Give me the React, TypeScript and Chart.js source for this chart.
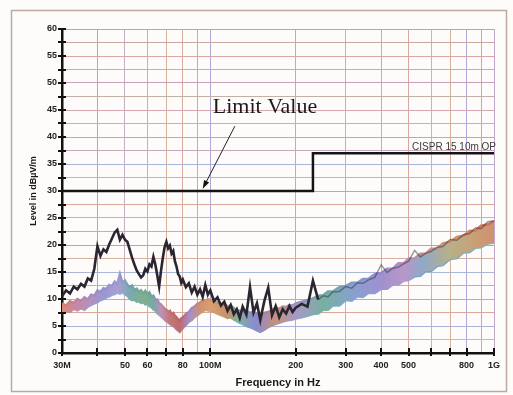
import React, { useEffect, useRef } from "react";
import { Chart, registerables } from "chart.js";

Chart.register(...registerables);

// ---------------- DATA ----------------
const FREQ_MHZ = [
  30, 31, 32, 33, 34, 35, 36, 37, 38, 39, 40, 41, 42, 43, 44, 45, 46, 47, 48, 49,
  50, 51, 52, 53, 54, 55, 56, 57, 58, 59, 60, 61, 62, 63, 64, 65, 66, 67, 68, 69,
  70, 71, 72, 73, 74, 75, 76, 77, 78, 79, 80, 82, 84, 86, 88, 90, 92, 94, 96, 98,
  100, 103, 106, 109, 112, 115, 118, 121, 124, 127, 130, 134, 138, 142, 146, 150,
  155, 160, 165, 170, 175, 180, 185, 190, 195, 200, 210, 220, 230, 240, 250, 260,
  270, 285, 300, 315, 330, 345, 360, 380, 400, 420, 440, 460, 480, 500, 525, 550,
  575, 600, 630, 660, 700, 740, 780, 820, 860, 900, 950, 1000,
];

// peak trace (black)
const PEAK_DBUV = [
  10.5, 11.6, 11.0, 12.3, 11.8, 12.8, 12.3, 13.8, 13.4, 15.6, 19.8, 18.0, 19.2, 18.7, 20.1, 21.2, 22.3, 22.8, 21.0, 21.9,
  21.0, 20.6, 19.1, 17.6, 16.4, 15.3, 14.6, 14.0, 14.4, 15.6, 15.1, 16.4, 16.0, 17.8, 16.4, 14.4, 12.3, 15.2, 17.6, 19.6,
  20.6, 19.4, 19.9, 18.4, 18.9, 17.0, 16.0, 14.6, 14.2, 13.0, 13.6, 12.2, 12.9, 11.2, 12.3, 10.8, 11.8, 10.4, 12.6, 10.8,
  11.6, 9.6, 10.3, 8.8, 9.5, 7.8, 8.9, 7.2, 8.1, 6.5, 8.6, 7.1, 12.2, 7.5, 9.2, 6.1,
  9.6, 12.1, 7.0, 8.7, 6.6, 8.1, 7.3, 8.7, 7.6, 8.4, 9.1, 8.6, 13.4, 9.9, 10.6, 10.4,
  11.3, 11.4, 12.3, 12.0, 13.0, 12.9, 13.5, 14.0, 16.3, 14.9, 15.7, 15.9, 16.5, 17.0, 19.0, 17.8,
  18.5, 18.8, 19.6, 19.7, 21.0, 20.9, 21.9, 22.1, 23.2, 23.0, 24.3, 24.5,
];

// average trace band (coloured) upper and lower edges
const AVG_UPPER_DBUV = [
  9.2, 8.8, 9.6, 9.3, 10.0, 9.6, 10.3, 9.9, 10.8, 10.6, 11.6, 11.3, 12.0, 11.8, 12.6, 12.4, 13.2, 12.8, 14.6, 13.0,
  13.4, 12.6, 12.2, 12.5, 11.6, 11.9, 11.3, 11.6, 11.0, 11.5, 10.8, 11.2, 10.4, 10.6, 9.8, 9.9, 9.2, 9.0, 8.6, 8.2,
  8.0, 7.6, 7.8, 7.2, 7.4, 6.9, 6.6, 6.2, 6.0, 6.4, 6.6, 7.2, 7.6, 8.3, 8.6, 9.1, 9.3, 9.8, 9.6, 10.0,
  9.8, 9.5, 9.3, 9.0, 9.2, 8.6, 8.8, 8.3, 8.0, 7.8, 7.6, 7.9, 7.4, 7.7, 7.2, 7.0,
  7.4, 7.6, 7.9, 8.4, 8.2, 8.6, 8.5, 8.9, 8.8, 9.2, 9.5, 9.8, 10.1, 10.6, 10.7, 11.4,
  11.4, 12.2, 12.4, 13.0, 13.0, 13.7, 13.7, 14.6, 14.8, 15.6, 15.6, 16.6, 16.6, 17.5, 17.5, 18.4,
  18.4, 19.3, 19.3, 20.3, 20.6, 21.5, 21.7, 22.6, 22.7, 23.6, 23.8, 24.4,
];

const AVG_LOWER_DBUV = [
  7.4, 7.8, 7.6, 8.2, 7.9, 8.3, 8.0, 8.6, 8.9, 9.2, 9.4, 9.8, 10.0, 10.3, 10.5, 10.8, 10.9, 11.2, 11.0, 11.3,
  10.9, 10.6, 10.1, 9.8, 9.9, 9.5, 9.6, 9.3, 9.4, 9.0, 9.1, 8.7, 8.5, 8.1, 7.9, 7.4, 7.1, 6.8, 6.5, 6.2,
  5.9, 5.7, 5.4, 5.2, 5.0, 4.8, 4.4, 4.2, 3.9, 4.3, 4.6, 5.2, 5.8, 6.1, 6.7, 7.0, 7.4, 7.7, 8.0, 7.9,
  7.8, 7.6, 7.3, 7.0, 6.8, 6.5, 6.6, 6.2, 5.9, 5.6, 5.4, 5.0, 4.8, 4.5, 4.2, 3.9,
  4.3, 4.8, 5.1, 5.4, 5.6, 5.8, 6.0, 6.1, 6.2, 6.4, 6.6, 6.9, 7.2, 7.3, 8.0, 8.0,
  8.8, 8.8, 9.8, 9.7, 10.5, 10.4, 11.1, 11.1, 11.9, 11.9, 12.7, 12.7, 13.4, 13.5, 14.2, 14.3,
  15.2, 15.2, 16.1, 16.3, 17.4, 17.6, 18.6, 18.7, 19.5, 19.6, 20.3, 20.4,
];

// limit line CISPR 15 10m OP
const LIMIT_FREQ_MHZ = [30, 230, 230, 1000];
const LIMIT_DBUV = [30, 30, 37, 37];

// axes
const X_MIN = 30;
const X_MAX = 1000;
const Y_MIN = 0;
const Y_MAX = 60;
const Y_STEP = 2.5;
const X_GRID_VALUES = [30, 40, 50, 60, 70, 80, 90, 100, 200, 300, 400, 500, 600, 700, 800, 900, 1000];
const X_TICK_MARKS = [30, 40, 50, 60, 70, 80, 100, 200, 300, 400, 500, 600, 700, 800, 1000];
const X_TICK_LABELS: Record<number, string> = {
  30: "30M", 50: "50", 60: "60", 80: "80", 100: "100M", 200: "200",
  300: "300", 400: "400", 500: "500", 800: "800", 1000: "1G",
};

// annotations
const LIMIT_NAME = "CISPR 15 10m OP";
const ANNOT_TEXT = "Limit Value";
const ANNOT_TEXT_AT = { f: 102, v: 45.6 };
const ANNOT_ARROW_FROM = { f: 122, v: 42 };
const ANNOT_ARROW_TO = { f: 94, v: 30.4 };
const PEAK_FADE_FROM_MHZ = 240;

// ---------------- STYLES ----------------
const SANS = "'Liberation Sans', Arial, sans-serif";
const SERIF = "'Liberation Serif', 'Times New Roman', serif";

const Y_GRID_COLORS = [
  "#c8a090", "#d4b4a8", "#a8b4d8", "#d8a898", "#b8a8d0", "#d0a8a0", "#a8b8d8", "#d8b0a0",
  "#b8a0c8", "#d4a8a0", "#a8b8dc", "#d8a898", "#b0a8d0", "#d8b098", "#a8b4d8", "#c8a8b8",
  "#d8a0a0", "#a8b8d8", "#d4a8b0", "#c0b0a8", "#c8a0b8", "#a8b4dc", "#d8a8a0", "#c8a8a0",
  "#a8a8d4",
];
const X_GRID_COLORS: Record<number, string> = {
  30: "rgba(0,0,0,0)", 40: "#a8a8d8", 50: "#c8b0c0", 60: "#a0c4c4", 70: "#d8b49c",
  80: "#d8ac98", 90: "#98c0cc", 100: "#b0a8d8", 200: "#a0b4dc", 300: "#d8aca0",
  400: "#a8b4e0", 500: "#d8a8a0", 600: "#b0b8dc", 700: "#d8b098", 800: "#b4a8d8",
  900: "#d8a4a0", 1000: "#c0a8c8",
};

const BAND_STOP_FREQ = [30, 33, 37, 42, 47, 52, 58, 63, 67, 72, 78, 85, 92, 100, 115, 125, 145, 170, 200, 250, 320, 400, 480, 560, 700, 850, 1000];
const BAND_FILL_COLORS = [
  "#d88a70", "#c888a0", "#b890b8", "#9a98d0", "#a8a0d4", "#7aaab0", "#80b08a", "#78a8a8", "#c090b8",
  "#c07878", "#c06a70", "#a890c8", "#d09070", "#d8a070", "#c89068", "#80b0a0", "#8c8ad0", "#c8907a",
  "#a898c8", "#78b0a0", "#88a0d0", "#a090d0", "#b898c8", "#90a8c8", "#b8b088", "#c8a078", "#d09070",
];
const BAND_TOP_COLORS = [
  "#d88068", "#c08098", "#b088b8", "#9090d0", "#a098d0", "#70a0b0", "#78a888", "#70a0a8", "#c088b0",
  "#c07070", "#c06068", "#a088c8", "#d08868", "#d09868", "#c88860", "#78a898", "#8480d0", "#c88870",
  "#a090c8", "#70a898", "#8098d0", "#9888d0", "#b890c0", "#c09090", "#d8906a", "#d07858", "#d07050",
];
const BAND_BOTTOM_COLORS = [
  "#d08870", "#b890b0", "#a898c8", "#90a0d8", "#98a8d8", "#70b0b0", "#78b090", "#70b0b0", "#b098c8",
  "#c08080", "#b07880", "#9898d0", "#c89880", "#c8a078", "#b8a080", "#78b8a8", "#7c90d8", "#b89888",
  "#98a0d0", "#70b8a8", "#80a8d8", "#9098d8", "#a8a0d0", "#70a8c0", "#78a8c8", "#78b0b0", "#88b8a0",
];

function makeGradient(chart: any, colors: string[]) {
  const { ctx, chartArea, scales } = chart;
  if (!chartArea || !scales.x) return colors[0];
  const g = ctx.createLinearGradient(chartArea.left, 0, chartArea.right, 0);
  const w = chartArea.right - chartArea.left;
  BAND_STOP_FREQ.forEach((f, i) => {
    const t = (scales.x.getPixelForValue(f) - chartArea.left) / w;
    g.addColorStop(Math.min(1, Math.max(0, t)), colors[i]);
  });
  return g;
}

const decorPlugin = {
  id: "decor",
  beforeDraw(chart: any) {
    const { ctx, width, height } = chart;
    ctx.save();
    ctx.fillStyle = "#fdfcfb";
    ctx.fillRect(0, 0, width, height);
    ctx.strokeStyle = "#bfa99c";
    ctx.lineWidth = 1.5;
    ctx.strokeRect(11.5, 10.5, 495, 381);
    ctx.restore();
  },
  afterDraw(chart: any) {
    const { ctx, chartArea, scales } = chart;
    const xs = scales.x;
    const ys = scales.y;
    ctx.save();
    ctx.strokeStyle = "#111";
    ctx.lineWidth = 2;
    ctx.beginPath();
    for (let v = Y_MIN; v <= Y_MAX + 1e-6; v += Y_STEP) {
      const y = Math.round(ys.getPixelForValue(v));
      ctx.moveTo(chartArea.left - 4, y);
      ctx.lineTo(chartArea.left + 4, y);
    }
    X_TICK_MARKS.forEach((f) => {
      const x = Math.round(xs.getPixelForValue(f));
      ctx.moveTo(x, chartArea.bottom - 5);
      ctx.lineTo(x, chartArea.bottom + 3);
    });
    ctx.stroke();

    ctx.fillStyle = "#3a3a3a";
    ctx.font = `10px ${SANS}`;
    ctx.textAlign = "right";
    ctx.textBaseline = "alphabetic";
    ctx.fillText(LIMIT_NAME, xs.getPixelForValue(X_MAX) + 2, ys.getPixelForValue(37) - 3);

    ctx.fillStyle = "#1a1a1a";
    ctx.font = `22px ${SERIF}`;
    ctx.textAlign = "left";
    ctx.textBaseline = "middle";
    ctx.fillText(ANNOT_TEXT, xs.getPixelForValue(ANNOT_TEXT_AT.f), ys.getPixelForValue(ANNOT_TEXT_AT.v));

    const x1 = xs.getPixelForValue(ANNOT_ARROW_FROM.f);
    const y1 = ys.getPixelForValue(ANNOT_ARROW_FROM.v);
    const x2 = xs.getPixelForValue(ANNOT_ARROW_TO.f);
    const y2 = ys.getPixelForValue(ANNOT_ARROW_TO.v);
    const ang = Math.atan2(y2 - y1, x2 - x1);
    const hl = 9;
    ctx.strokeStyle = "#222";
    ctx.lineWidth = 1;
    ctx.beginPath();
    ctx.moveTo(x1, y1);
    ctx.lineTo(x2 - Math.cos(ang) * 4, y2 - Math.sin(ang) * 4);
    ctx.stroke();
    ctx.fillStyle = "#111";
    ctx.beginPath();
    ctx.moveTo(x2, y2);
    ctx.lineTo(x2 - hl * Math.cos(ang - 0.32), y2 - hl * Math.sin(ang - 0.32));
    ctx.lineTo(x2 - hl * Math.cos(ang + 0.32), y2 - hl * Math.sin(ang + 0.32));
    ctx.closePath();
    ctx.fill();
    ctx.restore();
  },
};

export default function App() {
  const canvasRef = useRef<HTMLCanvasElement | null>(null);

  useEffect(() => {
    if (!canvasRef.current) return;
    const pts = (ys: number[]) => FREQ_MHZ.map((f, i) => ({ x: f, y: ys[i] }));
    const chart = new Chart(canvasRef.current, {
      type: "line",
      data: {
        datasets: [
          {
            label: "avg-lower",
            data: pts(AVG_LOWER_DBUV),
            borderColor: (c: any) => makeGradient(c.chart, BAND_BOTTOM_COLORS),
            borderWidth: 2.5,
            pointRadius: 0,
            fill: false,
            order: 10,
          },
          {
            label: "avg-upper",
            data: pts(AVG_UPPER_DBUV),
            borderColor: (c: any) => makeGradient(c.chart, BAND_TOP_COLORS),
            backgroundColor: (c: any) => makeGradient(c.chart, BAND_FILL_COLORS),
            borderWidth: 2.5,
            pointRadius: 0,
            fill: "-1",
            order: 9,
          },
          {
            label: "peak",
            data: pts(PEAK_DBUV),
            borderColor: "#2b2530",
            borderWidth: 2.6,
            pointRadius: 0,
            fill: false,
            order: 2,
            segment: {
              borderColor: (c: any) =>
                c.p0.parsed.x >= PEAK_FADE_FROM_MHZ ? "rgba(43,37,48,0.45)" : "#2b2530",
              borderWidth: (c: any) => (c.p0.parsed.x >= PEAK_FADE_FROM_MHZ ? 1.5 : 2.6),
            },
          },
          {
            label: "limit",
            data: LIMIT_FREQ_MHZ.map((f, i) => ({ x: f, y: LIMIT_DBUV[i] })),
            borderColor: "#141414",
            borderWidth: 2.5,
            pointRadius: 0,
            fill: false,
            order: 1,
          },
        ],
      },
      options: {
        responsive: false,
        animation: false,
        events: [],
        parsing: false as any,
        layout: { padding: { left: 0, top: 29, right: 19, bottom: 0 } },
        plugins: { legend: { display: false }, tooltip: { enabled: false } },
        elements: { line: { tension: 0 } },
        scales: {
          x: {
            type: "logarithmic",
            min: X_MIN,
            max: X_MAX,
            afterBuildTicks: (s: any) => {
              s.ticks = X_GRID_VALUES.map((v) => ({ value: v }));
            },
            afterFit: (s: any) => {
              s.height = 42;
            },
            ticks: {
              autoSkip: false,
              maxRotation: 0,
              padding: 7,
              color: "#222",
              font: { family: SANS, size: 9, weight: "bold" },
              callback: (v: any) => X_TICK_LABELS[Number(v)] ?? "",
            },
            grid: {
              drawTicks: false,
              lineWidth: 1,
              color: (c: any) => X_GRID_COLORS[c.tick?.value] ?? "#c0b0c0",
            },
            border: { display: true, color: "#111", width: 2.5 },
            title: {
              display: true,
              text: "Frequency in Hz",
              color: "#1a1a1a",
              font: { family: SANS, size: 11, weight: "bold" },
              padding: { top: 0, bottom: 5 },
            },
          },
          y: {
            type: "linear",
            min: Y_MIN,
            max: Y_MAX,
            afterFit: (s: any) => {
              s.width = 62;
            },
            ticks: {
              stepSize: Y_STEP,
              autoSkip: false,
              padding: 5,
              color: "#222",
              font: { family: SANS, size: 9, weight: "bold" },
              callback: (v: any) => (Number(v) % 5 === 0 ? String(v) : ""),
            },
            grid: {
              drawTicks: false,
              lineWidth: 1,
              color: (c: any) => Y_GRID_COLORS[c.index] ?? "#c0b0c0",
            },
            border: { display: true, color: "#111", width: 2.5 },
            title: {
              display: true,
              text: "Level in dBµV/m",
              color: "#1a1a1a",
              font: { family: SANS, size: 9, weight: "bold" },
              padding: { top: 28, bottom: 0 },
            },
          },
        },
      },
      plugins: [decorPlugin],
    } as any);
    return () => chart.destroy();
  }, []);

  return (
    <div style={{ position: "fixed", left: 0, top: 0, width: 513, height: 395 }}>
      <canvas ref={canvasRef} width={513} height={395} style={{ display: "block" }} />
    </div>
  );
}
